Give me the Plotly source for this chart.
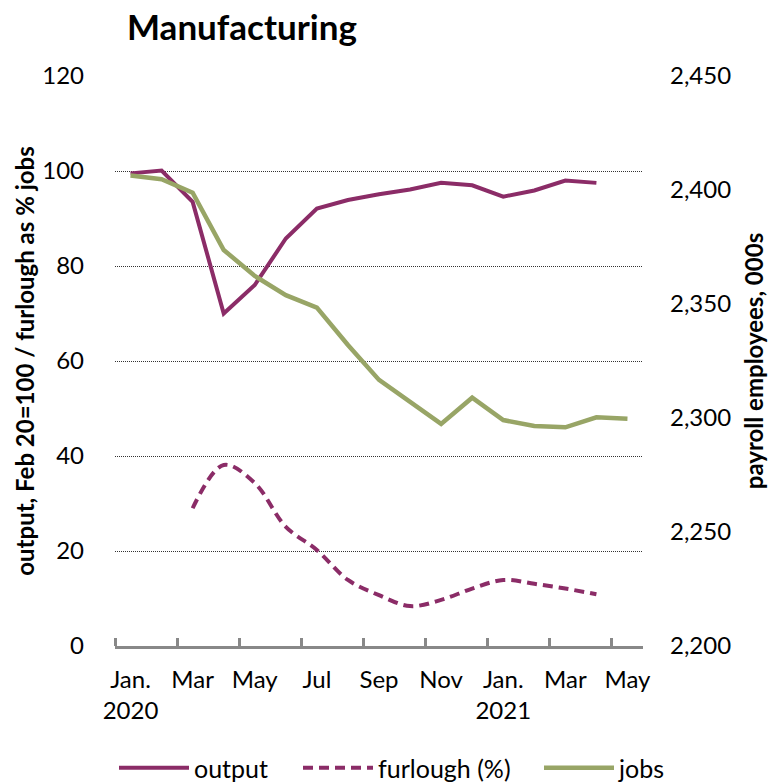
import plotly.graph_objects as go

# Monthly series, Jan 2020 .. May 2021
months = ["Jan 2020", "Feb 2020", "Mar 2020", "Apr 2020", "May 2020", "Jun 2020",
          "Jul 2020", "Aug 2020", "Sep 2020", "Oct 2020", "Nov 2020", "Dec 2020",
          "Jan 2021", "Feb 2021", "Mar 2021", "Apr 2021", "May 2021"]

# output index, Feb 2020 = 100
output = [99.5, 100.1, 93.5, 70.0, 76.0, 85.8, 92.1, 93.9, 95.1, 96.1, 97.5, 97.0,
          94.6, 95.9, 98.0, 97.5, None]

# furlough, % of jobs
furlough = [None, None, 29.0, 38.1, 34.3, 25.1, 20.2, 13.9, 10.7, 8.4, 9.7, 12.1,
            13.9, 13.1, 12.1, 10.9, None]

# payroll employees, thousands
jobs = [2406.4, 2404.7, 2398.8, 2373.7, 2362.3, 2353.9, 2348.4, 2332.0, 2316.7,
        2306.9, 2297.4, 2308.9, 2299.1, 2296.5, 2295.9, 2300.3, 2299.7]

tick_labels = ["Jan.<br>2020", "Mar", "May", "Jul", "Sep", "Nov", "Jan.<br>2021", "Mar", "May"]

PURPLE = "#8B2C67"
GREEN = "#98A566"
AXIS_GREY = "#888888"
FONT = "Lato"

x = list(range(len(months)))
label_pos = x[::2]
boundaries = [i - 0.5 for i in x[::2]]

fig = go.Figure()
fig.add_trace(go.Scatter(x=x, y=output, name="output", mode="lines", legend="legend",
                         line=dict(color=PURPLE, width=4), text=months))
fig.add_trace(go.Scatter(x=x, y=furlough, name="furlough (%)", mode="lines",
                         legend="legend2",
                         line=dict(color=PURPLE, width=4, dash="10px,6px",
                                   shape="spline", smoothing=1),
                         text=months))
fig.add_trace(go.Scatter(x=x, y=jobs, name="jobs", mode="lines", yaxis="y2",
                         legend="legend3",
                         line=dict(color=GREEN, width=4.5), text=months))


def legend_at(left_px):
    # one single-entry legend box along the bottom of the figure
    return dict(orientation="h", xref="container", yref="container",
                x=left_px / 768, xanchor="left", y=1 - 768 / 782, yanchor="middle",
                font=dict(size=25, family=FONT), itemwidth=70,
                bgcolor="rgba(0,0,0,0)")


fig.update_layout(
    width=768, height=782,
    margin=dict(l=115, r=125, t=76, b=136, autoexpand=False),
    paper_bgcolor="white", plot_bgcolor="white",
    font=dict(family=FONT, color="black", size=24),
    title=dict(text="<b>Manufacturing</b>", font=dict(size=35, family=FONT),
               xref="container", x=127 / 768, xanchor="left",
               yref="container", y=1 - 28 / 782, yanchor="middle"),
    xaxis=dict(range=[-0.5, len(months) - 0.5], tickvals=label_pos, ticktext=tick_labels,
               ticks="", showgrid=False, zeroline=False,
               showline=True, linecolor=AXIS_GREY, linewidth=3,
               tickfont=dict(size=24), ticklabelstandoff=10,
               minor=dict(tickvals=boundaries, ticks="inside", ticklen=8,
                          tickwidth=3, tickcolor=AXIS_GREY, showgrid=False)),
    yaxis=dict(range=[0, 120], dtick=20, showgrid=True, gridcolor="#333333",
               gridwidth=1, griddash="1px,1px", zeroline=False, showline=False,
               ticks="", tickfont=dict(size=24), ticklabelstandoff=30,
               title=dict(text="<b>output, Feb 20=100 / furlough as % jobs</b>",
                          font=dict(size=24), standoff=0)),
    yaxis2=dict(range=[2200, 2450], dtick=50, tickformat=",", overlaying="y",
                side="right", showgrid=False, zeroline=False, showline=False,
                ticks="", tickfont=dict(size=24), ticklabelstandoff=26,
                title=dict(text="<b>payroll employees, 000s</b>",
                           font=dict(size=24), standoff=22)),
    legend=legend_at(114),
    legend2=legend_at(298),
    legend3=legend_at(539),
    showlegend=True,
)

fig.write_html("out.html")
